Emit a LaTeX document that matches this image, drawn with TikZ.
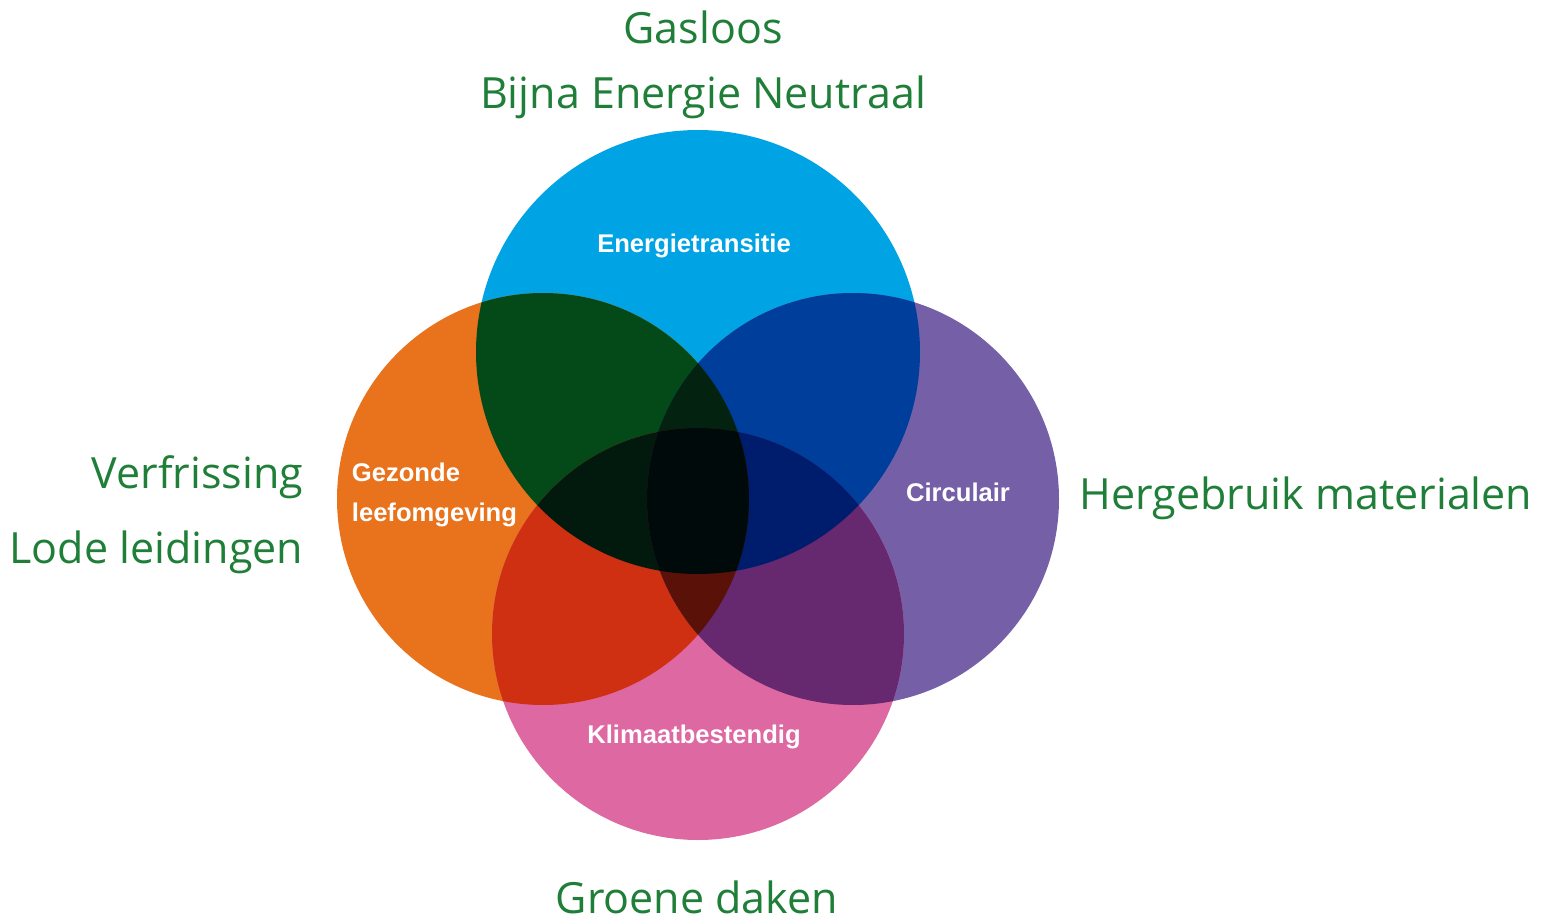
\documentclass[tikz,border=0pt]{standalone}
\usepackage{fontspec}
\setmainfont{Open Sans}
\newfontfamily\arialfont{Liberation Sans}

\definecolor{tekstgroen}{RGB}{31,126,56}
\definecolor{energie}{RGB}{0,163,227}
\definecolor{gezond}{RGB}{233,114,28}
\definecolor{circulair}{RGB}{117,96,168}
\definecolor{klimaat}{RGB}{222,104,162}
\definecolor{gezondenergie}{RGB}{4,74,24}
\definecolor{energiecirc}{RGB}{0,62,156}
\definecolor{gezondklimaat}{RGB}{208,48,18}
\definecolor{circklimaat}{RGB}{102,40,110}
\definecolor{driegek}{RGB}{2,26,14}
\definecolor{driegep}{RGB}{3,34,16}
\definecolor{drieekp}{RGB}{0,28,108}
\definecolor{driegkp}{RGB}{90,18,8}
\definecolor{vier}{RGB}{0,10,10}

\begin{document}
\begin{tikzpicture}[x=0.5pt,y=-0.5pt,
  groen/.style={text=tekstgroen,font=\fontsize{21.5}{25}\selectfont,inner sep=0.75pt},
  wit/.style={text=white,font=\arialfont\bfseries\fontsize{12.8}{15}\selectfont,inner sep=0.75pt}]
\useasboundingbox (0,0) rectangle (1549,921);

%centres
\coordinate (cE) at (698,352);
\coordinate (cG) at (543,499);
\coordinate (cC) at (853,499);
\coordinate (cK) at (698,634);
\def\rE{222}
\def\rR{206}

%Shape: Circles
\fill [energie] (cE) circle (\rE);
\fill [gezond] (cG) circle (\rR);
\fill [circulair] (cC) circle (\rR);
\fill [klimaat] (cK) circle (\rR);

%Overlap: two circles
\begin{scope}
\clip (cE) circle (\rE);
\fill [gezondenergie] (cG) circle (\rR);
\fill [energiecirc] (cC) circle (\rR);
\end{scope}
\begin{scope}
\clip (cK) circle (\rR);
\fill [gezondklimaat] (cG) circle (\rR);
\fill [circklimaat] (cC) circle (\rR);
\end{scope}

%Overlap: three circles
\begin{scope}
\clip (cE) circle (\rE);
\clip (cK) circle (\rR);
\fill [driegek] (cG) circle (\rR);
\fill [drieekp] (cC) circle (\rR);
\end{scope}
\begin{scope}
\clip (cG) circle (\rR);
\clip (cC) circle (\rR);
\fill [driegep] (cE) circle (\rE);
\fill [driegkp] (cK) circle (\rR);
\end{scope}

%Overlap: all four
\begin{scope}
\clip (cG) circle (\rR);
\clip (cC) circle (\rR);
\clip (cE) circle (\rE);
\fill [vier] (cK) circle (\rR);
\end{scope}

% Text Node
\node (energietransitie) [wit] at (694,246) {Energietransitie};
% Text Node
\node (gezonde) [wit,anchor=west] at (350,472) {Gezonde};
% Text Node
\node (leefomgeving) [wit,anchor=west] at (350,515) {leefomgeving};
% Text Node
\node (circulairtxt) [wit] at (958,492) {Circulair};
% Text Node
\node (klimaatbestendig) [wit] at (694,737) {Klimaatbestendig};

% Text Node
\node (gasloos) [groen] at (703,27) {Gasloos};
% Text Node
\node (bijna) [groen] at (703,97) {Bijna Energie Neutraal};
% Text Node
\node (verfrissing) [groen,anchor=east] at (305,477) {Verfrissing};
% Text Node
\node (lode) [groen,anchor=east] at (305,552) {Lode leidingen};
% Text Node
\node (hergebruik) [groen,anchor=west] at (1078,498) {Hergebruik materialen};
% Text Node
\node (groene) [groen] at (697,897) {Groene daken};

\end{tikzpicture}
\end{document}
